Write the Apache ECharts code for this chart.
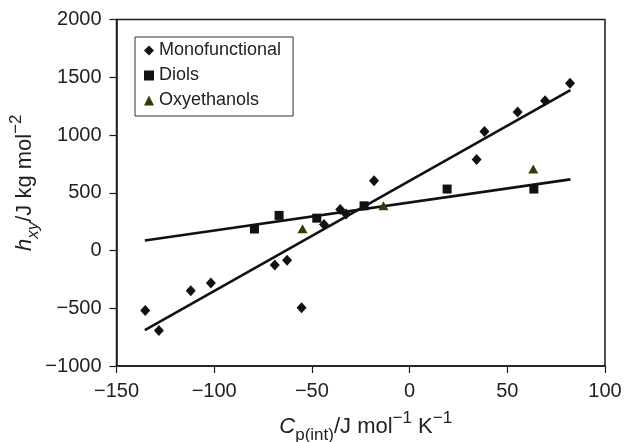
<!DOCTYPE html>
<html>
<head>
<meta charset="utf-8">
<script src="https://cdn.jsdelivr.net/npm/echarts@6/dist/echarts.min.js"></script>
<style>
  html, body { margin: 0; padding: 0; background: #fff; }
  #chart { width: 624px; height: 442px; }
</style>
</head>
<body>
<div id="chart"></div>
<script>
// scatter data
const monoX = [-135.3, -128.3, -112, -101.7, -69, -62.7, -55.3, -43.8, -35.5, -32.5, -18.2, 34.3, 38.3, 55.3, 69.3, 82.1]
const monoY = [-520, -692, -348, -281, -125, -85, -495, 225, 354, 315, 603, 787, 1030, 1200, 1296, 1449]
const diolX = [-79.4, -66.8, -47.5, -23.3, 19.2, 63.6]
const diolY = [186, 304, 280, 387, 532, 532]
const oxyX = [-54.8, -13.4, 63.3]
const oxyY = [188, 387, 705]

// regression lines (end points)
const monoFitX = [-135.5, 82.3]
const monoFitY = [-690, 1388]
const diolFitX = [-135.5, 82.3]
const diolFitY = [86, 616]

const FONT = '"Liberation Sans", Arial, Helvetica, sans-serif'
const INK = '#1a1a1a'

const pairs = (xs, ys) => xs.map((x, i) => [x, ys[i]])
const fmt = v => (v < 0 ? '\u2212' + Math.abs(v) : String(v))

const chart = echarts.init(document.getElementById('chart'))

const axisCommon = {
  axisLine: { show: true, onZero: false, lineStyle: { color: INK, width: 1.5 } },
  axisTick: { show: true, inside: false, length: 7, lineStyle: { color: INK, width: 1.2 } },
  splitLine: { show: false }
}
const labelCommon = { color: '#222', fontFamily: FONT, fontSize: 20, formatter: fmt }

const titleRich = {
  n: { fontFamily: FONT, fontSize: 22, color: '#222', lineHeight: 34, verticalAlign: 'middle' },
  i: { fontFamily: FONT, fontSize: 22, color: '#222', fontStyle: 'italic', lineHeight: 34, verticalAlign: 'middle' },
  sub: { fontFamily: FONT, fontSize: 17, color: '#222', lineHeight: 15, verticalAlign: 'bottom' },
  isub: { fontFamily: FONT, fontSize: 17, color: '#222', fontStyle: 'italic', lineHeight: 15, verticalAlign: 'bottom' },
  sup: { fontFamily: FONT, fontSize: 17, color: '#222', lineHeight: 15, verticalAlign: 'top' }
}

chart.setOption({
  animation: false,
  backgroundColor: '#fff',
  grid: {
    left: 116.5,
    right: 19,
    top: 19.5,
    bottom: 76,
    outerBoundsMode: 'none',
    containLabel: false,
    show: true,
    borderColor: INK,
    borderWidth: 1.5
  },
  legend: {
    orient: 'vertical',
    left: 135,
    top: 37,
    itemWidth: 10,
    itemHeight: 10,
    itemGap: 6,
    padding: [4, 12, 6, 9],
    borderColor: '#333',
    borderWidth: 1,
    textStyle: { fontFamily: FONT, fontSize: 18, color: '#222', lineHeight: 19 },
    data: ['Monofunctional', 'Diols', 'Oxyethanols']
  },
  xAxis: {
    type: 'value',
    min: -150,
    max: 100,
    interval: 50,
    ...axisCommon,
    axisLabel: { ...labelCommon, margin: 15 },
    name: '{i|C}{sub|p(int)}{n|/J mol}{sup|\u22121}{n| K}{sup|\u22121}',
    nameLocation: 'middle',
    nameMoveOverlap: false,
    nameGap: 44,
    nameTextStyle: { rich: titleRich, padding: [0, 0, 0, 10] }
  },
  yAxis: {
    type: 'value',
    min: -1000,
    max: 2000,
    interval: 500,
    ...axisCommon,
    axisLabel: { ...labelCommon, margin: 15 },
    name: '{i|h}{isub|xy}{n|/J kg mol}{sup|\u22122}',
    nameLocation: 'middle',
    nameRotate: 90,
    nameMoveOverlap: false,
    nameGap: 75,
    nameTextStyle: { rich: titleRich, padding: [0, 0, 0, 20] }
  },
  series: [
    {
      name: 'Monofunctional',
      type: 'scatter',
      symbol: 'diamond',
      symbolSize: [10, 11],
      itemStyle: { color: '#111', opacity: 1 },
      data: pairs(monoX, monoY),
      z: 3
    },
    {
      name: 'Diols',
      type: 'scatter',
      symbol: 'rect',
      symbolSize: 9,
      itemStyle: { color: '#111', opacity: 1 },
      data: pairs(diolX, diolY),
      z: 3
    },
    {
      name: 'Oxyethanols',
      type: 'scatter',
      symbol: 'triangle',
      symbolSize: [10, 9],
      itemStyle: { color: '#383808', opacity: 1 },
      data: pairs(oxyX, oxyY),
      z: 3
    },
    {
      name: 'monoFit',
      type: 'line',
      symbol: 'none',
      silent: true,
      lineStyle: { color: '#111', width: 2.6 },
      data: pairs(monoFitX, monoFitY),
      z: 2
    },
    {
      name: 'diolFit',
      type: 'line',
      symbol: 'none',
      silent: true,
      lineStyle: { color: '#111', width: 2.6 },
      data: pairs(diolFitX, diolFitY),
      z: 2
    }
  ]
})
</script>
</body>
</html>
